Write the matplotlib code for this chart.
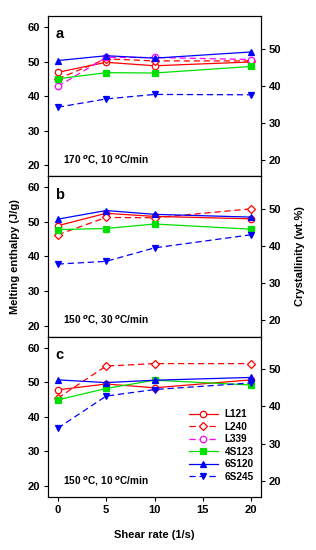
import matplotlib
matplotlib.use("Agg")
import matplotlib.pyplot as plt

plt.rcParams['font.family'] = ['Liberation Sans', 'DejaVu Sans']
plt.rcParams['font.weight'] = 'bold'
plt.rcParams['mathtext.fontset'] = 'custom'
plt.rcParams['mathtext.rm'] = 'Liberation Sans:bold'
plt.rcParams['mathtext.bf'] = 'Liberation Sans:bold'

# ================================
# DADOS
# ================================
shear = [0, 5, 10, 20]

series = ["L121", "L240", "L339", "4S123", "6S120", "6S245"]

# painel a: 170 C, 10 C/min
a_L121 = [46.9, 49.8, 48.8, 49.9]
a_L240 = [45.0, 50.8, 50.2, 50.2]
a_L339 = [42.8, 51.2, 51.2, 50.6]
a_4S123 = [45.0, 46.8, 46.7, 48.6]
a_6S120 = [50.3, 51.7, 51.0, 52.8]
a_6S245 = [36.8, 39.2, 40.5, 40.4]

# painel b: 150 C, 30 C/min
b_L121 = [48.9, 52.5, 51.6, 50.9]
b_L240 = [46.3, 51.3, 51.2, 53.8]
b_4S123 = [47.8, 48.1, 49.4, 47.9]
b_6S120 = [50.8, 53.3, 52.2, 51.4]
b_6S245 = [37.8, 38.6, 42.5, 46.3]

# painel c: 150 C, 10 C/min
c_L121 = [47.8, 49.5, 48.4, 50.7]
c_L240 = [45.4, 54.7, 55.4, 55.4]
c_4S123 = [44.9, 48.2, 50.6, 49.2]
c_6S120 = [50.7, 49.9, 50.6, 51.4]
c_6S245 = [36.7, 46.0, 47.9, 49.8]

panels = [
    ("a", "170 $^{o}$C, 10 $^{o}$C/min",
     {"L121": a_L121, "L240": a_L240, "L339": a_L339,
      "4S123": a_4S123, "6S120": a_6S120, "6S245": a_6S245}),
    ("b", "150 $^{o}$C, 30 $^{o}$C/min",
     {"L121": b_L121, "L240": b_L240,
      "4S123": b_4S123, "6S120": b_6S120, "6S245": b_6S245}),
    ("c", "150 $^{o}$C, 10 $^{o}$C/min",
     {"L121": c_L121, "L240": c_L240,
      "4S123": c_4S123, "6S120": c_6S120, "6S245": c_6S245}),
]

ESTILO = {
    "L121": dict(color="#ff0000", ls="-", marker="o", mfc="white"),
    "L240": dict(color="#ff0000", ls=(0, (5, 3)), marker="D", mfc="white", ms=3.8),
    "L339": dict(color="#ff00ff", ls=(0, (5, 3)), marker="o", mfc="white"),
    "4S123": dict(color="#00e000", ls="-", marker="s"),
    "6S120": dict(color="#0000ff", ls="-", marker="^"),
    "6S245": dict(color="#0000ff", ls=(0, (5, 3)), marker="v"),
}

H0 = 107.5  # escala da cristalinidade
YLIM = (16.8, 63.2)
FS = 8

# ================================
# FIGURA
# ================================
fig = plt.figure(figsize=(3.16, 5.5), dpi=100)
left, width = 0.152, 0.674
bottom, height = 0.0964, 0.2915

for i, (letra, texto, dados) in enumerate(panels):
    ax = fig.add_axes([left, bottom + (2 - i) * height, width, height])
    for nome in series:
        if nome not in dados:
            continue
        st = dict(ESTILO[nome])
        ms = st.pop("ms", 4.6)
        ax.plot(shear, dados[nome], label=nome, lw=0.9, ms=ms, mew=0.9,
                mec=st["color"], **st)
    ax.set_xlim(-1, 21)
    ax.set_ylim(*YLIM)
    ax.set_xticks([0, 5, 10, 15, 20])
    ax.set_yticks([20, 30, 40, 50, 60])
    ax.tick_params(direction="out", length=3, width=0.8, labelsize=FS, pad=2.5)
    if i < 2:
        ax.tick_params(axis="x", labelbottom=False)
    for sp in ax.spines.values():
        sp.set_linewidth(0.8)
    ax.text(0.035, 0.93, letra, transform=ax.transAxes, fontsize=10.5,
            fontweight="bold", va="top", ha="left")
    ax.text(0.07, 0.1, texto, transform=ax.transAxes, fontsize=7.2,
            fontweight="bold", va="center", ha="left")

    ax2 = ax.twinx()
    ax2.set_ylim(YLIM[0] * 100 / H0, YLIM[1] * 100 / H0)
    ax2.set_yticks([20, 30, 40, 50])
    ax2.tick_params(direction="out", length=3, width=0.8, labelsize=FS, pad=2.5)
    for sp in ax2.spines.values():
        sp.set_linewidth(0.8)

    if i == 1:
        ax.set_ylabel("Melting enthalpy (J/g)", fontsize=FS, fontweight="bold", labelpad=6)
        ax2.set_ylabel("Crystallinity (wt.%)", fontsize=FS, fontweight="bold",
                       rotation=90, labelpad=10)
    if i == 2:
        ax.set_xlabel("Shear rate (1/s)", fontsize=FS, fontweight="bold", labelpad=11)
        ax_leg = ax

# legenda com todas as series
h_all = []
for nome in series:
    st = dict(ESTILO[nome])
    ms = st.pop("ms", 4.6)
    h, = ax_leg.plot([], [], lw=0.9, ms=ms, mew=0.9, mec=st["color"], label=nome, **st)
    h_all.append(h)
ax_leg.legend(handles=h_all, loc="lower right", bbox_to_anchor=(1.0, 0.05),
              frameon=False, fontsize=7.2, handlelength=2.9, labelspacing=0.25,
              borderaxespad=0.3, handletextpad=0.7)

fig.savefig("out.png", dpi=100)
